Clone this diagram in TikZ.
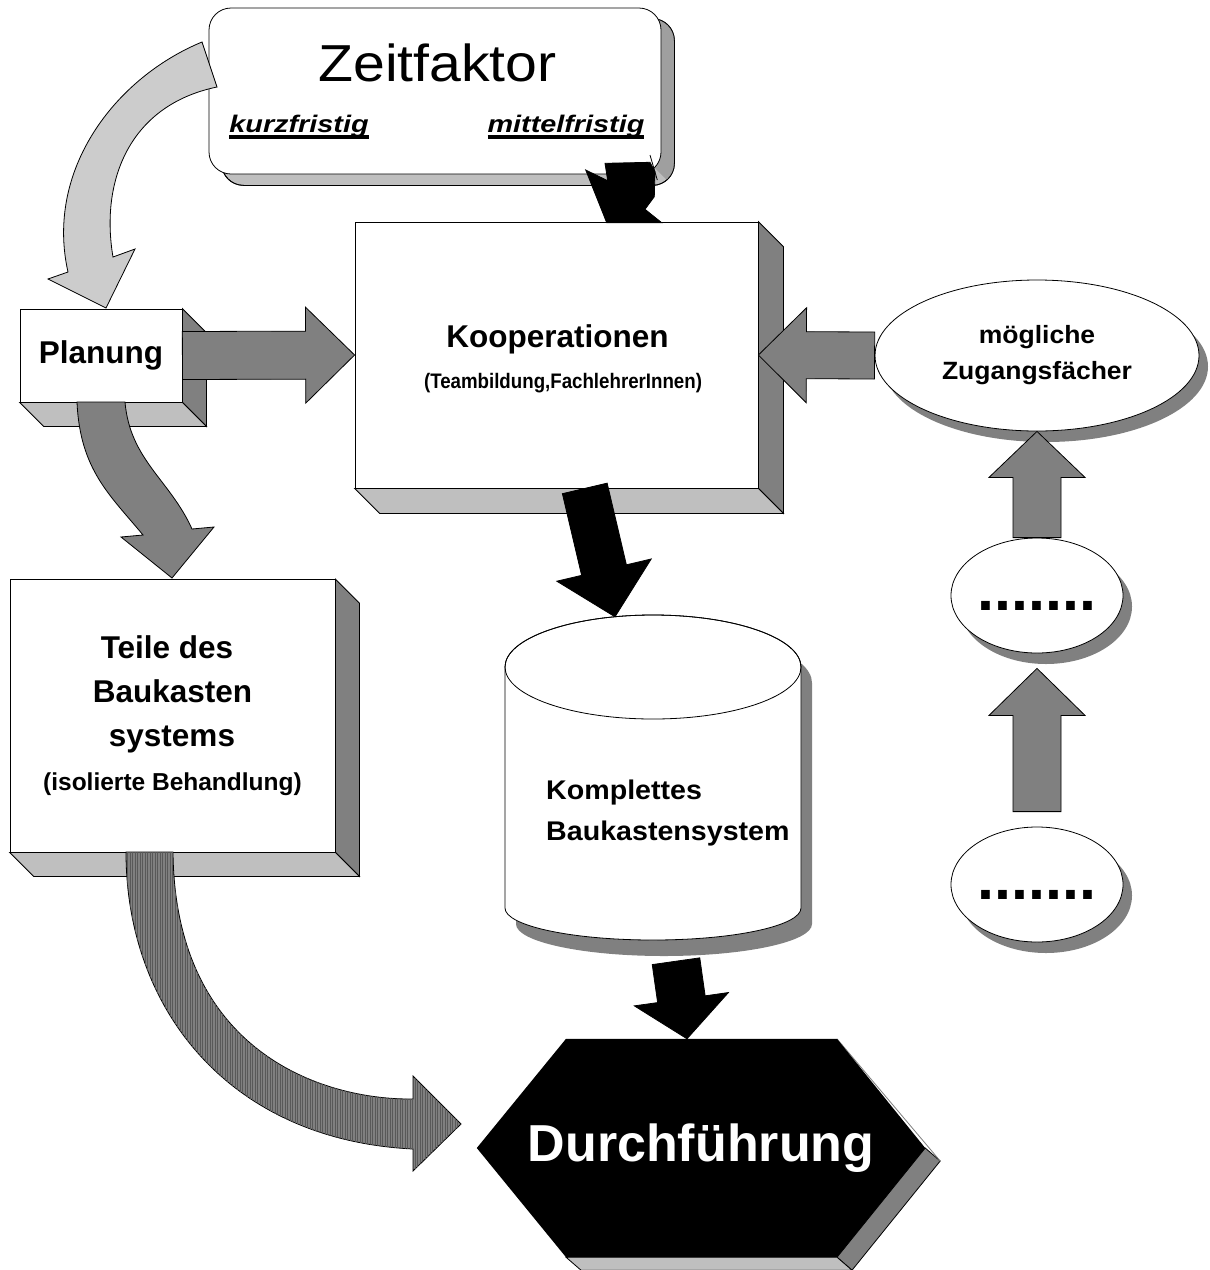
\documentclass[tikz,border=0pt]{standalone}
\usepackage{fontspec}
\setmainfont{Liberation Sans}
\newfontfamily\zeitfont[FakeStretch=1.1]{Liberation Sans}
\newfontfamily\breitfont[FakeStretch=1.06]{Liberation Sans}
\newfontfamily\sehrbreitfont[FakeStretch=1.2]{Liberation Sans}
\newfontfamily\schmalfont[FakeStretch=0.89]{Liberation Sans}
\usetikzlibrary{calc,shapes.geometric,shadows,backgrounds,patterns.meta}

\definecolor{seitedunkel}{gray}{0.5}
\definecolor{seitehell}{gray}{0.75}
\definecolor{pfeilhell}{gray}{0.8}

\tikzset{
	kasten/.style={draw, fill=white, line width=0.8pt, inner sep=0pt},
	oval/.style={ellipse, draw, fill=white, line width=0.8pt, inner sep=0pt,
		drop shadow={shadow xshift=9pt, shadow yshift=-11pt, fill=seitedunkel, opacity=1}},
	dunkelseite/.style={fill=seitedunkel, draw=black, line width=0.8pt},
	hellseite/.style={fill=seitehell, draw=black, line width=0.8pt},
	pfeildunkel/.style={fill=seitedunkel, draw=black, line width=0.8pt},
	pfeilschwarz/.style={fill=black, draw=black, line width=0.8pt},
	pfeilhellgrau/.style={fill=pfeilhell, draw=black, line width=0.8pt},
	pfeilstreifen/.style={fill=seitedunkel, draw=black, line width=0.8pt,
		postaction={pattern={Lines[angle=90, distance=2.5pt, line width=0.7pt]}, pattern color=black!65}},
	beschriftung/.style={inner sep=0pt, anchor=base},
	zeitstufe/.style={font=\sehrbreitfont\bfseries\itshape\fontsize{24}{28}\selectfont},
	teiletext/.style={font=\bfseries\fontsize{31.5}{36}\selectfont},
	zyltext/.style={font=\breitfont\bfseries\fontsize{27}{30}\selectfont},
	punkte/.style={font=\bfseries\fontsize{61}{61}\selectfont, text height=29pt, text depth=0pt}
}

% Seitenflaechen eines Quaders
\newcommand{\quader}[2]{%
	\filldraw[dunkelseite] (#1.north east) -- ++(#2,#2) -- ($(#1.south east)+(#2,#2)$) -- (#1.south east) -- cycle;
	\filldraw[hellseite] (#1.south west) -- ++(#2,#2) -- ($(#1.south east)+(#2,#2)$) -- (#1.south east) -- cycle;}

% Blockpfeil: [Stil]{von}{nach}{halbe Schaftbreite}{halbe Kopfbreite}{Kopflaenge}
\newcommand{\blockpfeil}[6][]{%
	\coordinate (kopf) at ($(#3)!#6!(#2)$);
	\filldraw[#1] ($(#2)!#4!90:(#3)$) -- ($(kopf)!#4!90:(#3)$) -- ($(kopf)!#5!90:(#3)$) -- (#3)
		-- ($(kopf)!#5!-90:(#3)$) -- ($(kopf)!#4!-90:(#3)$) -- ($(#2)!#4!-90:(#3)$) -- cycle;}

\newcommand{\strich}[1]{\setbox0\hbox{#1}\rlap{\rule[-7pt]{\wd0}{4pt}}\box0}

\begin{document}
\begin{tikzpicture}[x=1pt, y=-1pt]
		\path[use as bounding box] (0,0) rectangle (1210,1270);
		%Knoten
		\node (zeit) [kasten, rounded corners=22pt, minimum width=452pt, minimum height=166pt] at (435,91) {};
		\node (zeittitel) [beschriftung, font=\zeitfont\fontsize{52}{56}\selectfont] at (437.5,81) {Zeitfaktor};
		\node (kurz) [beschriftung, zeitstufe] at (299,132) {\strich{kurzfristig}};
		\node (mittel) [beschriftung, zeitstufe] at (566,132) {\strich{mittelfristig}};
		\node (plan) [kasten, minimum width=162pt, minimum height=93pt, font=\bfseries\fontsize{31.5}{36}\selectfont] at (101,355.5) {Planung};
		\node (koop) [kasten, minimum width=403pt, minimum height=266pt] at (556.5,355) {};
		\node (kooptitel) [beschriftung, font=\bfseries\fontsize{31.5}{36}\selectfont] at (557.5,347) {Kooperationen};
		\node (koopzusatz) [beschriftung, font=\schmalfont\bfseries\fontsize{21}{24}\selectfont] at (563,388) {(Teambildung,FachlehrerInnen)};
		\node (teile) [kasten, minimum width=325pt, minimum height=272.5pt] at (172.5,715.75) {};
		\node (teile1) [beschriftung, teiletext] at (167,658) {Teile des};
		\node (teile2) [beschriftung, teiletext] at (172.5,702) {Baukasten};
		\node (teile3) [beschriftung, teiletext] at (172,746) {systems};
		\node (teile4) [beschriftung, font=\bfseries\fontsize{24.5}{28}\selectfont] at (172.5,790) {(isolierte Behandlung)};
		\node (zug) [oval, minimum width=324pt, minimum height=151pt, align=center, font=\breitfont\bfseries\fontsize{25}{36}\selectfont] at (1037,355.5) {mögliche\\Zugangsfächer};
		\node (dotsA) [oval, punkte, minimum width=172pt, minimum height=115pt] at (1037,595.5) {.......};
		\node (dotsB) [oval, punkte, minimum width=172pt, minimum height=115pt] at (1037,884.5) {.......};
		\node (zyl) [inner sep=0pt, minimum width=296pt, minimum height=325pt] at (653,777.5) {};
		\node (komp1) [beschriftung, anchor=base west, zyltext] at (546,799) {Komplettes};
		\node (komp2) [beschriftung, anchor=base west, zyltext] at (546,840) {Baukastensystem};
		\node (durch) [inner sep=0pt, minimum width=448pt, minimum height=218pt, text=white, font=\bfseries\fontsize{52}{60}\selectfont] at (701,1148) {Durchführung};
		%Seitenflaechen
		\quader{plan}{24}
		\quader{koop}{25}
		\quader{teile}{24}
		%Pfeile
		\filldraw[pfeilhellgrau] (202,42) .. controls (115,78) and (45,170) .. (68,272) -- (48,279) -- (106,308) -- (135,249) -- (113,257) .. controls (100,180) and (130,105) .. (217,87) -- cycle;
		\filldraw[pfeilschwarz] (585.7,170) -- (607.7,180.7) -- (605,163.3) -- (650,162.3) -- (655,171.7) -- (654.3,196.7) -- (645,209.3) -- (661.7,222.7) -- (606.7,222.7) -- cycle;
		\draw[line width=0.8pt] (650,155) -- (657.3,180);
		\blockpfeil[pfeildunkel]{plan.east}{koop.west}{24pt}{48pt}{49pt}
		\filldraw[pfeildunkel] (77,402) .. controls (80,470) and (110,495) .. (143,535) -- (121,537) -- (172,578) -- (214,527) -- (192,529) .. controls (170,480) and (130,460) .. (125,402) -- cycle;
		\blockpfeil[pfeildunkel]{zug.west}{koop.east}{23.5pt}{47.5pt}{48pt}
		\blockpfeil[pfeildunkel]{dotsA.north}{zug.south}{24pt}{48pt}{46pt}
		\coordinate (dBoben) at ($(dotsB.north)!15pt!(dotsA.south)$);
		\coordinate (dAunten) at ($(dotsA.south)!15pt!(dotsB.north)$);
		\blockpfeil[pfeildunkel]{dBoben}{dAunten}{24pt}{48pt}{47pt}
		\coordinate (koopunten) at ($(koop.south west)!0.57!(koop.south east)$);
		\coordinate (zylspitze) at ($(zyl.north)+(-38,2)$);
		\blockpfeil[pfeilschwarz]{koopunten}{zylspitze}{23pt}{48.5pt}{48pt}
		\coordinate (zylunten) at ($(zyl.south)+(23,21)$);
		\coordinate (durchspitze) at ($(durch.north)+(-14,0)$);
		\blockpfeil[pfeilschwarz]{zylunten}{durchspitze}{24pt}{47.5pt}{40pt}
		\filldraw[pfeilstreifen] (126,852) .. controls (126,1010) and (230,1140) .. (413,1149) -- (413,1171) -- (461,1124) -- (413,1076) -- (413,1099) .. controls (320,1100) and (175,1050) .. (173,852) -- cycle;
		%Hintergrund
		\begin{scope}[on background layer]
			\fill[white] (0,0) rectangle (1210,1270);
			\filldraw[hellseite, rounded corners=22pt] ($(zeit.north west)+(13,11)$) rectangle ($(zeit.south east)+(13,11)$);
			\begin{scope}
				\clip ($(zeit.south east)+(-106,-106)$) -- ($(zeit.south east)+(44,44)$) -- ($(zeit.south east)+(60,44)$) -- ($(zeit.south east)+(60,-200)$) -- ($(zeit.south east)+(-106,-200)$) -- cycle;
				\fill[seitedunkel!75, rounded corners=22pt] ($(zeit.north west)+(13,11)$) rectangle ($(zeit.south east)+(13,11)$);
			\end{scope}
			\draw[line width=0.8pt, rounded corners=22pt] ($(zeit.north west)+(13,11)$) rectangle ($(zeit.south east)+(13,11)$);
			%Zylinder
			\fill[seitedunkel, shift={(11,16)}] (505,667) -- (505,908) arc[start angle=180, end angle=0, x radius=148, y radius=32] -- (801,667) arc[start angle=0, end angle=-180, x radius=148, y radius=52] -- cycle;
			\filldraw[fill=white, line width=0.8pt] (505,667) -- (505,908) arc[start angle=180, end angle=0, x radius=148, y radius=32] -- (801,667) arc[start angle=0, end angle=-180, x radius=148, y radius=52] -- cycle;
			\draw[line width=0.8pt] (653,667) ellipse [x radius=148, y radius=52];
			%Sechseck
			\filldraw[dunkelseite] (durch.east) -- ++(15,13) -- ($(durch.south)+(151,13)$) -- ($(durch.south)+(136,0)$) -- cycle;
			\filldraw[hellseite] ($(durch.south)+(-135,0)$) -- ++(15,13) -- ($(durch.south)+(151,13)$) -- ($(durch.south)+(136,0)$) -- cycle;
			\draw[seitedunkel, line width=0.8pt] ($(durch.north)+(136,0)$) -- ($(durch.east)+(15,13)$);
			\fill[black] ($(durch.north)+(-135,0)$) -- ($(durch.north)+(136,0)$) -- (durch.east) -- ($(durch.south)+(136,0)$) -- ($(durch.south)+(-135,0)$) -- (durch.west) -- cycle;
		\end{scope}
\end{tikzpicture}
\end{document}
